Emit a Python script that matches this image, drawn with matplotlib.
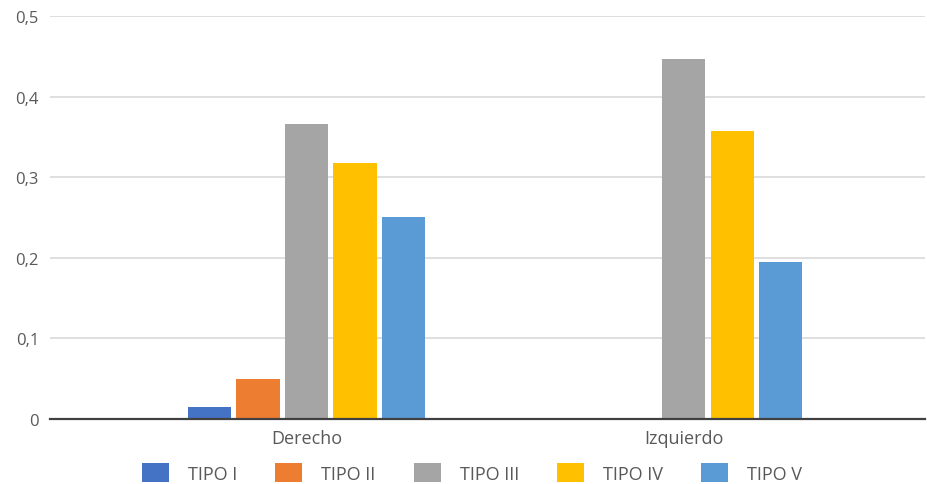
import numpy as np
import matplotlib.pyplot as plt
from matplotlib.patches import Patch
from matplotlib.ticker import FuncFormatter

plt.rcParams['font.family'] = ['Open Sans', 'DejaVu Sans']

lados = ['Derecho', 'Izquierdo']
tipos = ['TIPO I', 'TIPO II', 'TIPO III', 'TIPO IV', 'TIPO V']
tipo_i = [0.015, 0.0]
tipo_ii = [0.05, 0.0]
tipo_iii = [0.366, 0.447]
tipo_iv = [0.318, 0.357]
tipo_v = [0.251, 0.195]

colores = ['#4472C4', '#ED7D31', '#A5A5A5', '#FFC000', '#5B9BD5']
texto = '#595959'

fig = plt.figure(figsize=(9.27, 4.85), dpi=100)
ax = fig.add_axes([0.054, 0.134, 0.944, 0.831])

x = np.arange(len(lados))
paso = 0.1286
ancho = 0.115
series = [tipo_i, tipo_ii, tipo_iii, tipo_iv, tipo_v]
for i, (vals, c) in enumerate(zip(series, colores)):
    ax.bar(x + (i - 2) * paso, vals, width=ancho, color=c, zorder=3)

ax.set_ylim(0, 0.5)
ax.set_xlim(-0.68, 1.64)
ax.set_yticks(np.arange(0, 0.51, 0.1))
ax.yaxis.set_major_formatter(FuncFormatter(
    lambda v, _: '0' if abs(v) < 1e-9 else f'{v:.1f}'.replace('.', ',')))
ax.set_xticks(x)
ax.set_xticklabels(lados, fontsize=13, color=texto)
ax.tick_params(axis='y', labelsize=12, labelcolor=texto, length=0, pad=8)
ax.tick_params(axis='x', length=0, pad=7)

ax.grid(axis='y', color='#D9D9D9', linewidth=1.2, zorder=0)
for s in ['top', 'right', 'left']:
    ax.spines[s].set_visible(False)
ax.spines['bottom'].set_color('#404040')
ax.spines['bottom'].set_linewidth(1.6)
ax.spines['bottom'].set_zorder(4)

handles = [Patch(facecolor=c, edgecolor='none') for c in colores]
fig.legend(handles, tipos, loc='center', bbox_to_anchor=(472 / 927, 1 - 474 / 485),
           ncol=5, frameon=False, fontsize=13, labelcolor=texto,
           handlelength=1.5, handleheight=1.2, handletextpad=1.05,
           columnspacing=2.1)

fig.savefig('out.png', dpi=100)
